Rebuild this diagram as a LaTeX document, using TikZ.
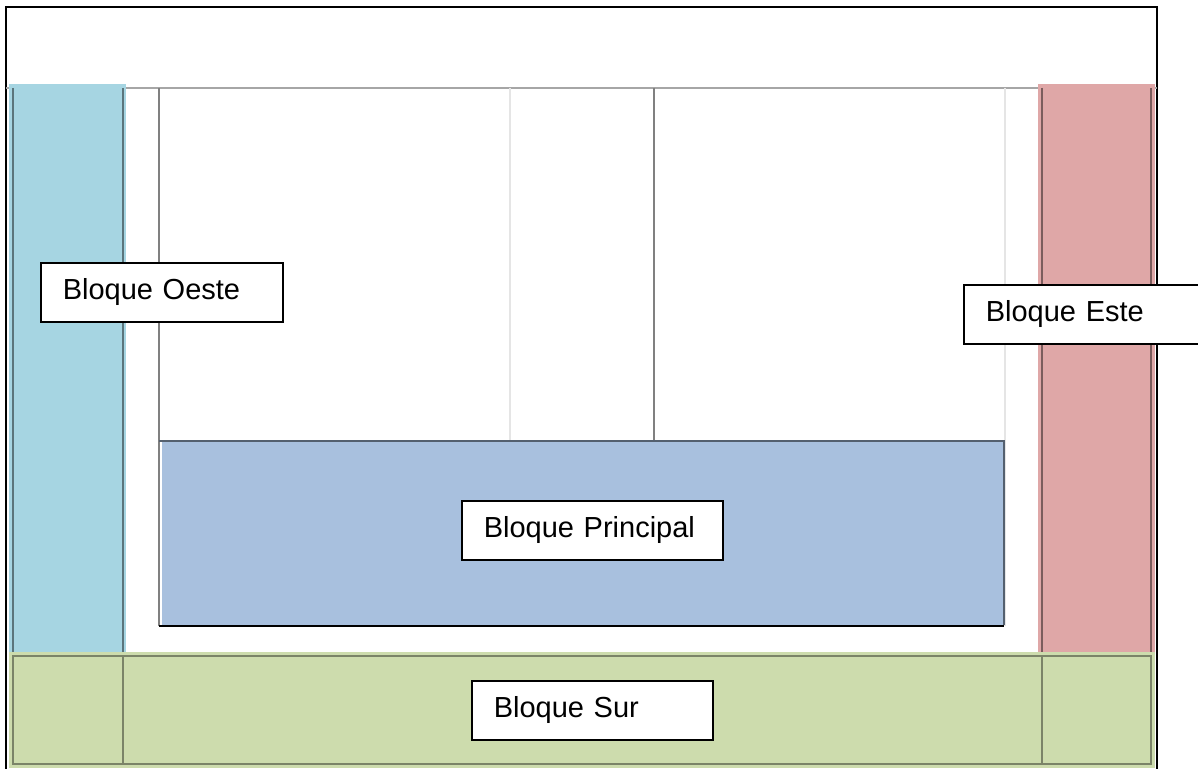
\documentclass[tikz,border=0pt]{standalone}
\usepackage{fontspec}
\setmainfont{Liberation Sans}
\usepackage{xcolor}
\usepackage{tikz}
\definecolor{colOeste}{RGB}{166,213,226}
\definecolor{colEste}{RGB}{223,167,167}
\definecolor{colSur}{RGB}{205,220,173}
\definecolor{colPrincipal}{RGB}{168,192,222}
\begin{document}
\begin{tikzpicture}[x=0.5pt,y=-0.5pt,font=\fontsize{14.5}{17}\selectfont,
	bloque/.style={draw=black,fill=white,line width=0.8pt,anchor=north west,inner xsep=11pt,minimum height=29.5pt,align=left}]
	\useasboundingbox (0,0) rectangle (1198,769);
	% marco
	\draw[line width=0.9pt] (6,769) -- (6,7) -- (1157,7) -- (1157,769);
	\draw[gray!70,line width=1.2pt] (6,88) -- (1157,88);
	\draw[gray,line width=0.8pt] (159,88) -- (159,626);
	\draw[gray!20,line width=0.8pt] (510,88) -- (510,441);
	\draw[gray,line width=0.8pt] (654,88) -- (654,441);
	\draw[gray!20,line width=0.8pt] (1005,88) -- (1005,626);
	% bloques de color
	\fill[colPrincipal] (162,441) rectangle (1004,625);
	\draw[colPrincipal!50!black,line width=0.6pt] (159,441) -- (1004,441) -- (1004,625);
	\draw[line width=0.8pt] (159,626) -- (1004,626);
	\fill[colOeste] (9,84) rectangle (126,652);
	\draw[colOeste!55!black,line width=0.6pt] (13,88) -- (13,652) (123,88) -- (123,652);
	\fill[colEste] (1038,84) rectangle (1155,652);
	\draw[colEste!55!black,line width=0.6pt] (1042,88) -- (1042,652) (1151,88) -- (1151,652);
	\fill[colSur] (9,652) rectangle (1155,768);
	\draw[colSur!60!black,line width=0.6pt] (13,656) rectangle (1151,764);
	\draw[colSur!60!black,line width=0.6pt] (123,656) -- (123,764) (1042,656) -- (1042,764);
	% etiquetas
	\node[bloque,text width=99pt] (oeste) at (40,262) {Bloque Oeste};
	\node[bloque,text width=98pt] (este) at (963,284) {Bloque Este};
	\node[bloque,text width=108.5pt] (principal) at (461,500) {Bloque Principal};
	\node[bloque,text width=98.5pt] (sur) at (471,680) {Bloque Sur};
\end{tikzpicture}
\end{document}
